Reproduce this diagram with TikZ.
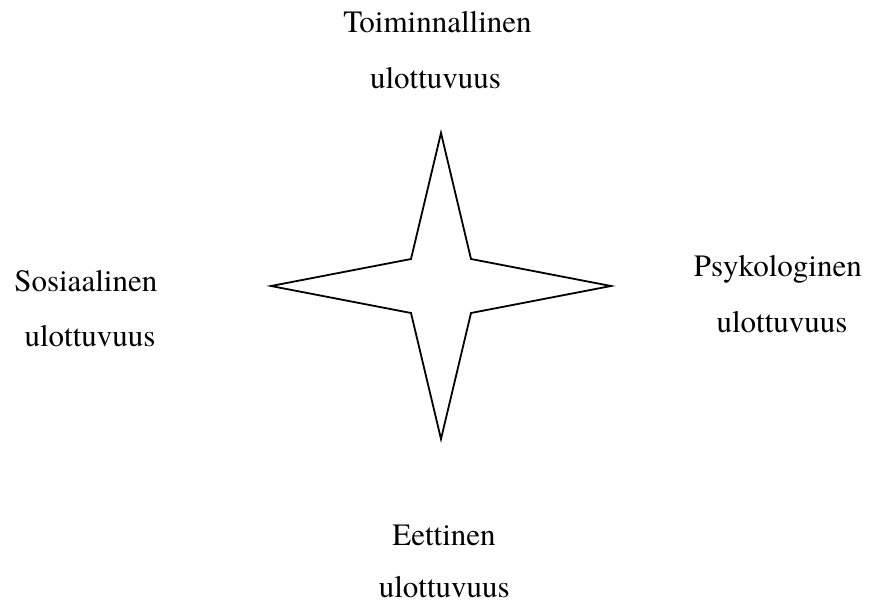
\documentclass[tikz,border=0pt]{standalone}
\usepackage{fontspec}
\setmainfont{TeX Gyre Termes}
\begin{document}
\begin{tikzpicture}[
        x=1pt, y=-1pt,
        dimlabel/.style={font=\fontsize{31}{37}\selectfont, anchor=base, inner sep=0pt},
        starline/.style={draw, line width=1.8pt, line join=miter, fill=white}
    ]
        \useasboundingbox (0,0) rectangle (869,605);
        \path[starline] (441,133) -- (471,259) -- (611,286) -- (471,313) -- (441,439)
            -- (411,313) -- (271,286) -- (411,259) -- cycle;
        \node[dimlabel] (toim)  at (437.5, 32.3) {Toiminnallinen};
        \node[dimlabel] (toimu) at (435.5, 88.3) {ulottuvuus};
        \node[dimlabel] (sos)   at (85.8, 291.7) {Sosiaalinen};
        \node[dimlabel] (sosu)  at (90, 346.7) {ulottuvuus};
        \node[dimlabel] (psy)   at (777.8, 276.7) {Psykologinen};
        \node[dimlabel] (psyu)  at (782, 332.7) {ulottuvuus};
        \node[dimlabel] (eet)   at (444, 545) {Eettinen};
        \node[dimlabel] (eetu)  at (444.3, 597) {ulottuvuus};
    \end{tikzpicture}
\end{document}
